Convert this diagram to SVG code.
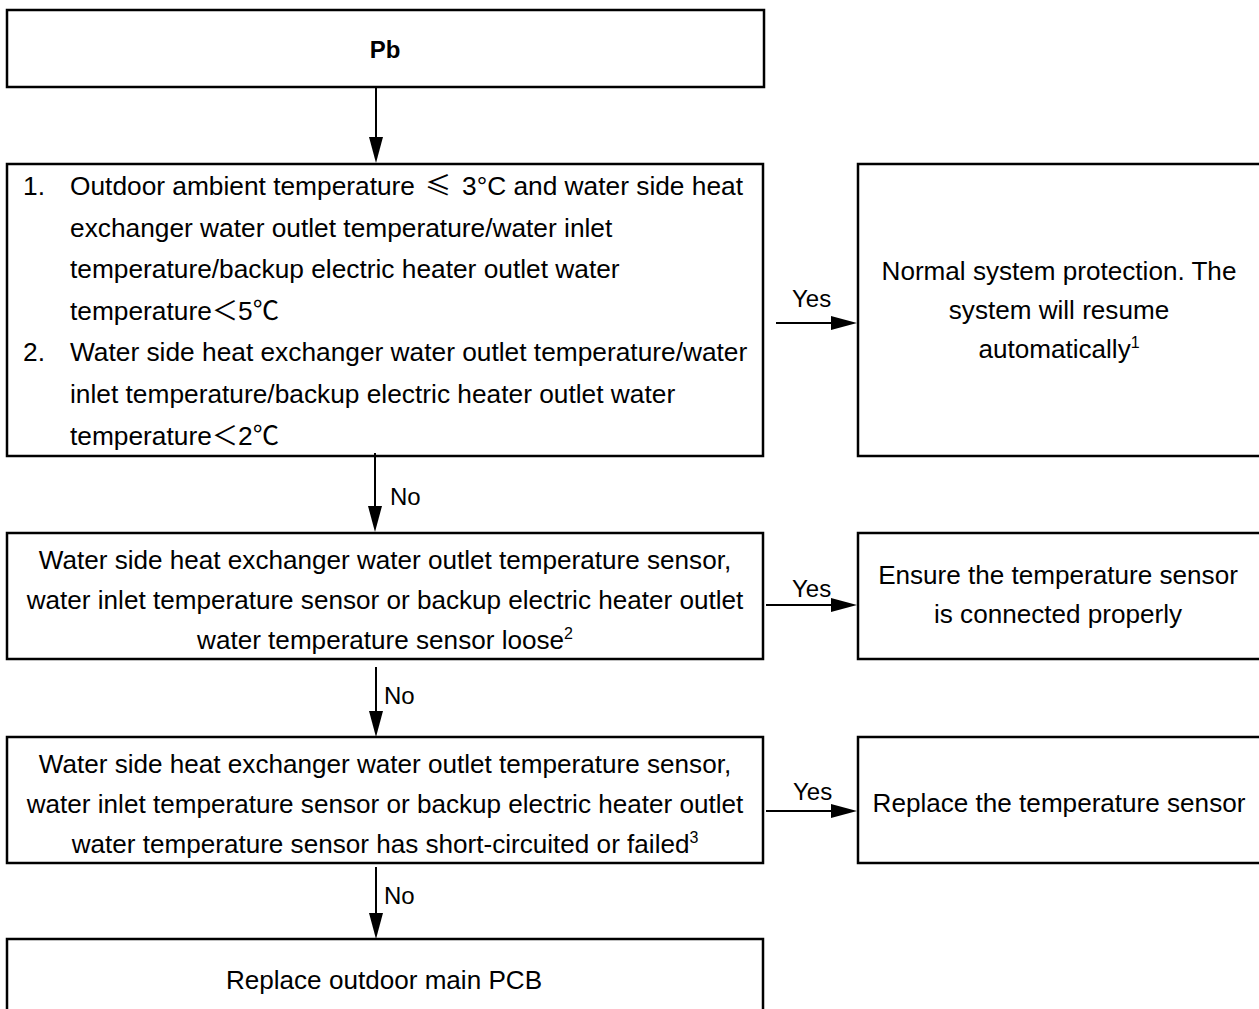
<svg xmlns="http://www.w3.org/2000/svg" width="1259" height="1009" viewBox="0 0 1259 1009">
<style>
.box{fill:#fff;stroke:#000;stroke-width:2.5}
.t{font-family:"Liberation Sans",Arial,"Noto Sans CJK SC",sans-serif;font-size:26.3px;fill:#000}
.c{text-anchor:middle;font-size:26.1px}
.lbl{font-family:"Liberation Sans",Arial,sans-serif;font-size:24px;fill:#000}
.cjk{font-family:"Noto Sans CJK SC","Liberation Sans",sans-serif}
.conn{stroke:#000;stroke-width:2;fill:none;marker-end:url(#ah)}
</style>
<defs>
<marker id="ah" markerUnits="userSpaceOnUse" markerWidth="26" markerHeight="14" refX="16" refY="7" orient="auto">
<path d="M0,0 L26,7 L0,14 Z" fill="#000"/>
</marker>
</defs>
<rect width="1259" height="1009" fill="#fff"/>

<g id="n-pb">
<rect class="box" x="7" y="10" width="757" height="77"/>
<text class="t c" x="385" y="58" font-weight="bold" style="font-size:24px">Pb</text>
</g>

<g id="n-cond1">
<rect class="box" x="7" y="164" width="756" height="292"/>
<text class="t" x="23" y="195">1.</text>
<text class="t" x="70" y="195">Outdoor ambient temperature <tspan class="cjk" x="425">≤</tspan> <tspan x="462">3°C and water side heat</tspan></text>
<text class="t" x="70" y="236.5">exchanger water outlet temperature/water inlet</text>
<text class="t" x="70" y="278">temperature/backup electric heater outlet water</text>
<text class="t" x="70" y="320">temperature<tspan class="cjk">＜</tspan>5<tspan class="cjk">℃</tspan></text>
<text class="t" x="23" y="361">2.</text>
<text class="t" x="70" y="361">Water side heat exchanger water outlet temperature/water</text>
<text class="t" x="70" y="403">inlet temperature/backup electric heater outlet water</text>
<text class="t" x="70" y="445">temperature<tspan class="cjk">＜</tspan>2<tspan class="cjk">℃</tspan></text>
</g>

<g id="n-normal">
<rect class="box" x="858" y="164" width="405" height="292"/>
<text class="t c" x="1059" y="280">Normal system protection. The</text>
<text class="t c" x="1059" y="319">system will resume</text>
<text class="t c" x="1059" y="358">automatically<tspan font-size="16" dy="-10">1</tspan></text>
</g>

<g id="n-loose">
<rect class="box" x="7" y="533" width="756" height="126"/>
<text class="t c" x="385" y="569">Water side heat exchanger water outlet temperature sensor,</text>
<text class="t c" x="385" y="609">water inlet temperature sensor or backup electric heater outlet</text>
<text class="t c" x="385" y="649">water temperature sensor loose<tspan font-size="16" dy="-10">2</tspan></text>
</g>

<g id="n-ensure">
<rect class="box" x="858" y="533" width="405" height="126"/>
<text class="t c" x="1058" y="584">Ensure the temperature sensor</text>
<text class="t c" x="1058" y="623">is connected properly</text>
</g>

<g id="n-failed">
<rect class="box" x="7" y="737" width="756" height="126"/>
<text class="t c" x="385" y="773">Water side heat exchanger water outlet temperature sensor,</text>
<text class="t c" x="385" y="813">water inlet temperature sensor or backup electric heater outlet</text>
<text class="t c" x="385" y="853">water temperature sensor has short-circuited or failed<tspan font-size="16" dy="-10">3</tspan></text>
</g>

<g id="n-replace-sensor">
<rect class="box" x="858" y="737" width="405" height="126"/>
<text class="t c" x="1059" y="812">Replace the temperature sensor</text>
</g>

<g id="n-pcb">
<rect class="box" x="7" y="939" width="756" height="80"/>
<text class="t c" x="384" y="989">Replace outdoor main PCB</text>
</g>

<g id="connectors">
<line class="conn" x1="376" y1="87" x2="376" y2="153"/>
<line class="conn" x1="776" y1="323" x2="847" y2="323"/>
<text class="lbl" x="792" y="307">Yes</text>
<line class="conn" x1="375" y1="453" x2="375" y2="522"/>
<text class="lbl" x="390" y="505">No</text>
<line class="conn" x1="766" y1="605" x2="847" y2="605"/>
<text class="lbl" x="792" y="597">Yes</text>
<line class="conn" x1="376" y1="667" x2="376" y2="727"/>
<text class="lbl" x="384" y="704">No</text>
<line class="conn" x1="766" y1="811" x2="847" y2="811"/>
<text class="lbl" x="793" y="800">Yes</text>
<line class="conn" x1="376" y1="867" x2="376" y2="929"/>
<text class="lbl" x="384" y="904">No</text>
</g>
</svg>
